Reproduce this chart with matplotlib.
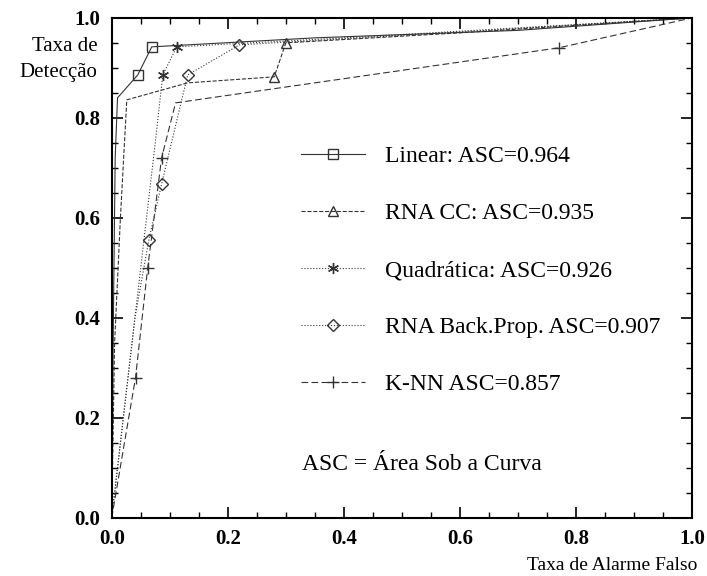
import matplotlib.pyplot as plt
from matplotlib.ticker import MultipleLocator

plt.rcParams['font.family'] = ['Liberation Serif', 'DejaVu Serif']

# ROC curves (false alarm rate, detection rate)
linear_x = [0.0, 0.003, 0.006, 0.010, 0.045, 0.069, 0.35, 0.70, 1.0]
linear_y = [0.0, 0.41, 0.72, 0.84, 0.886, 0.942, 0.960, 0.975, 1.0]

rna_cc_x = [0.0, 0.005, 0.015, 0.026, 0.131, 0.28, 0.30, 0.60, 1.0]
rna_cc_y = [0.0, 0.35, 0.60, 0.836, 0.870, 0.882, 0.950, 0.970, 1.0]

quad_x = [0.0, 0.02, 0.05, 0.075, 0.088, 0.112, 0.40, 1.0]
quad_y = [0.0, 0.20, 0.50, 0.75, 0.886, 0.942, 0.960, 1.0]

bp_x = [0.0, 0.02, 0.04, 0.064, 0.086, 0.131, 0.22, 0.50, 1.0]
bp_y = [0.0, 0.20, 0.40, 0.556, 0.668, 0.886, 0.946, 0.965, 1.0]

knn_x = [0.0, 0.041, 0.062, 0.086, 0.110, 0.77, 1.0]
knn_y = [0.0, 0.28, 0.50, 0.72, 0.83, 0.94, 1.0]

labels = ["Linear: ASC=0.964", "RNA CC: ASC=0.935", "Quadrática: ASC=0.926",
          "RNA Back.Prop. ASC=0.907", "K-NN ASC=0.857"]

fig = plt.figure(figsize=(7.07, 5.76), dpi=100)
ax = fig.add_axes([0.158, 0.101, 0.821, 0.868])

c = '#333333'
ax.plot(linear_x, linear_y, color=c, lw=0.8, ls='-', marker='s', ms=7, mfc='none',
        markevery=[4, 5], label=labels[0])
ax.plot(rna_cc_x, rna_cc_y, color=c, lw=0.8, ls='--', marker='^', ms=7, mfc='none',
        markevery=[5, 6], label=labels[1])
ax.plot(quad_x, quad_y, color=c, lw=0.8, ls=':', marker=(6, 2, 0), ms=8,
        markevery=[4, 5], label=labels[2])
ax.plot(bp_x, bp_y, color=c, lw=0.8, ls=':', marker='D', ms=6, mfc='none',
        markevery=[3, 4, 5, 6], label=labels[3])
ax.plot(knn_x, knn_y, color=c, lw=0.8, ls=(0, (6, 3)), marker='+', ms=9,
        markevery=[1, 2, 3, 5], label=labels[4])

ax.set_xlim(0, 1)
ax.set_ylim(0, 1)
ax.xaxis.set_major_locator(MultipleLocator(0.2))
ax.yaxis.set_major_locator(MultipleLocator(0.2))
ax.xaxis.set_minor_locator(MultipleLocator(0.05))
ax.yaxis.set_minor_locator(MultipleLocator(0.05))
ax.tick_params(which='both', direction='in', top=True, right=True)
ax.tick_params(which='major', length=8, width=1.2, labelsize=15, pad=8)
ax.tick_params(which='minor', length=4, width=1.0)
ax.xaxis.set_major_formatter(plt.FuncFormatter(lambda v, p: f"{v:.1f}"))
ax.yaxis.set_major_formatter(plt.FuncFormatter(lambda v, p: f"{v:.1f}"))
for lab in ax.get_xticklabels() + ax.get_yticklabels():
    lab.set_fontweight('bold')
for s in ax.spines.values():
    s.set_linewidth(1.5)

ax.legend(loc='upper left', bbox_to_anchor=(0.29, 0.787), frameon=False,
          fontsize=17, labelspacing=1.5, handlelength=2.7, handletextpad=0.85)

ax.text(0.328, 0.107, "ASC = Área Sob a Curva", transform=ax.transAxes,
        fontsize=17, ha='left', va='center')

fig.text(0.138, 0.897, "Taxa de\nDetecção", ha='right', va='center', fontsize=15,
         linespacing=1.5)
fig.text(0.986, 0.004, "Taxa de Alarme Falso", ha='right', va='bottom', fontsize=14)

fig.savefig('out.png', dpi=100)
